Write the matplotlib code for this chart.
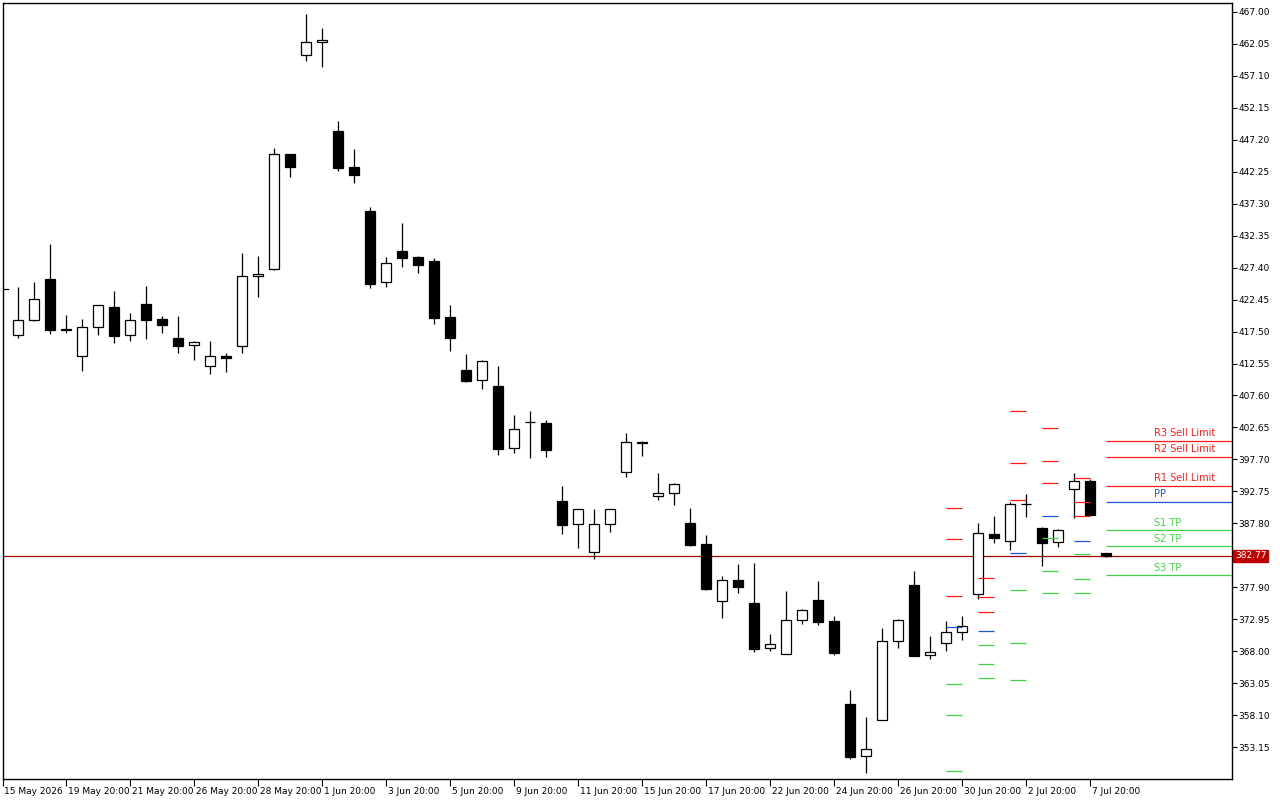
import numpy as np
import matplotlib
matplotlib.use("Agg")
import matplotlib.pyplot as plt
import matplotlib.transforms as mtransforms

# ---- candle data (one bar per index) ----
opens = [416.92, 419.25, 425.64, 417.85, 413.67, 418.16, 421.31, 416.92, 421.77, 419.40,
         416.51, 415.38, 412.12, 413.67, 415.22, 426.06, 427.15, 444.96, 460.29, 462.31,
         448.57, 442.99, 436.18, 425.13, 429.98, 429.05, 428.43, 419.76, 411.55, 409.95,
         409.07, 399.42, 403.50, 403.34, 391.26, 387.65, 383.31, 387.65, 395.80, 400.35,
         391.99, 392.45, 387.80, 384.60, 375.72, 379.02, 375.46, 368.44, 367.51, 372.78,
         375.92, 372.67, 359.81, 351.72, 357.29, 369.53, 378.25, 367.36, 369.22, 370.92,
         376.81, 386.15, 385.02, 390.75, 387.08, 384.86, 393.07, 394.36, 383.16]
highs = [424.40, 425.18, 431.07, 420.07, 419.45, 421.62, 423.79, 420.38, 424.56, 419.91,
         419.91, 415.99, 416.04, 414.14, 429.67, 429.21, 445.93, 445.00, 466.69, 464.52,
         450.12, 445.78, 436.80, 429.05, 434.36, 429.16, 428.90, 421.62, 414.03, 413.10,
         412.17, 404.58, 405.20, 403.80, 393.58, 390.02, 390.02, 390.02, 401.79, 400.50,
         395.60, 394.05, 390.17, 385.99, 379.64, 381.50, 381.66, 370.66, 377.32, 374.48,
         378.87, 373.45, 361.98, 357.80, 371.59, 372.98, 380.42, 370.35, 372.67, 373.45,
         387.85, 388.94, 391.10, 392.34, 387.23, 386.92, 395.60, 394.67, 383.20]
lows = [416.55, 419.20, 417.17, 417.33, 411.44, 417.02, 415.78, 416.09, 416.40, 417.33,
        414.23, 413.15, 410.98, 411.29, 414.23, 422.90, 427.10, 441.49, 459.46, 458.53,
        442.42, 440.56, 424.30, 424.45, 427.55, 426.62, 418.72, 414.54, 409.74, 408.65,
        398.43, 398.74, 397.97, 398.12, 386.19, 384.03, 382.32, 386.50, 395.02, 398.28,
        391.41, 390.69, 384.33, 377.52, 373.18, 377.05, 367.92, 368.07, 367.50, 372.25,
        372.10, 367.45, 351.34, 349.17, 357.27, 368.54, 367.30, 366.83, 368.07, 369.78,
        376.03, 384.80, 383.72, 388.73, 381.24, 384.18, 388.58, 389.14, 382.63]
closes = [419.25, 422.50, 417.79, 417.80, 418.16, 421.57, 416.86, 419.25, 419.34, 418.57,
          415.31, 415.84, 413.67, 413.33, 426.06, 426.37, 444.96, 443.04, 462.31, 462.62,
          442.88, 441.80, 424.92, 428.08, 428.94, 427.86, 419.65, 416.55, 409.89, 412.90,
          399.36, 402.36, 403.42, 399.21, 387.59, 389.97, 387.65, 389.97, 400.35, 400.20,
          392.45, 393.85, 384.49, 377.67, 379.02, 377.99, 368.38, 369.06, 372.78, 374.33,
          372.56, 367.76, 351.65, 352.80, 369.57, 372.78, 367.30, 367.82, 370.92, 371.85,
          386.26, 385.58, 390.75, 390.72, 384.80, 386.72, 394.31, 389.14, 382.77]

# ---- pivot levels, each set starts at a bar index ----
pivot_start = [58, 60, 62, 64, 66, 68]
R3 = [390.13, 379.29, 405.15, 402.52, 394.77, 400.51]
R2 = [385.33, 376.39, 397.10, 397.41, 391.06, 398.03]
R1 = [376.50, 374.02, 391.41, 394.00, 388.89, 393.54]
PP = [371.70, 371.08, 383.16, 388.89, 385.02, 391.06]
S1 = [362.87, 368.91, 377.43, 385.48, 383.00, 386.72]
S2 = [358.07, 365.97, 369.22, 380.37, 379.13, 384.24]
S3 = [349.39, 363.80, 363.49, 376.96, 376.96, 379.75]

current_price = 382.77
left_marker = 424.10

x_tick_pos = [3, 7, 11, 15, 19, 23, 27, 31, 35, 39, 43, 47, 51, 55, 59, 63, 67]
x_tick_lbl = ["19 May 20:00", "21 May 20:00", "26 May 20:00", "28 May 20:00",
              "1 Jun 20:00", "3 Jun 20:00", "5 Jun 20:00", "9 Jun 20:00",
              "11 Jun 20:00", "15 Jun 20:00", "17 Jun 20:00", "22 Jun 20:00",
              "24 Jun 20:00", "26 Jun 20:00", "30 Jun 20:00", "2 Jul 20:00",
              "7 Jul 20:00"]
first_label = "15 May 2026"
# the 382.85 level is hidden behind the current price tag
y_ticks = [353.15, 358.10, 363.05, 368.00, 372.95, 377.90, 387.80, 392.75,
           397.70, 402.65, 407.60, 412.55, 417.50, 422.45, 427.40, 432.35, 437.30,
           442.25, 447.20, 452.15, 457.10, 462.05, 467.00]

RED = "#ff1a1a"
BLUE = "#1f55d0"
GREEN = "#44d044"

fig = plt.figure(figsize=(12.8, 8), dpi=100)
ax = fig.add_axes([3 / 1280, 21 / 800, 1229 / 1280, 776 / 800])
xmin, xmax = -0.9375, 75.875
ax.set_xlim(xmin, xmax)
ax.set_ylim(348.20, 468.39)

o = np.array(opens); h = np.array(highs); l = np.array(lows); c = np.array(closes)
idx = np.arange(len(o))
up = c >= o

ax.vlines(idx, l, h, color="black", lw=0.9, zorder=2)
bottoms = np.minimum(o, c)
heights = np.maximum(np.abs(c - o), 0.12)
ax.bar(idx, heights, bottom=bottoms, width=0.62,
       color=np.where(up, "white", "black"), edgecolor="black", lw=0.9, zorder=3)

# pivot dashes
levels = [(R3, RED), (R2, RED), (R1, RED), (PP, BLUE), (S1, GREEN), (S2, GREEN), (S3, GREEN)]
for vals, col in levels:
    for k, s in enumerate(pivot_start):
        end = xmax if k == len(pivot_start) - 1 else s + 1
        ax.hlines(vals[k], s, end, color=col, lw=0.9, zorder=4)

# labels for current pivot set
names = ["R3 Sell Limit", "R2 Sell Limit", "R1 Sell Limit", "PP", "S1 TP", "S2 TP", "S3 TP"]
for (vals, col), name in zip(levels, names):
    ax.annotate(name, (71.0, vals[-1]), xytext=(0, 2), textcoords="offset points",
                ha="left", va="bottom", color=col, fontsize=7)

# current price line and label
ax.axhline(current_price, color="#a80000", lw=0.9, zorder=1)
trans = mtransforms.blended_transform_factory(ax.transAxes, ax.transData)
ax.text(1.0025, current_price, f"{current_price:.2f}", transform=trans, ha="left",
        va="center", color="white", fontsize=6.5, zorder=6,
        bbox=dict(boxstyle="square,pad=0.18", fc="#c00000", ec="#c00000"))

# small marker on the left border
ax.plot([0, 0.004], [left_marker, left_marker], transform=trans, color="black",
        lw=0.9, clip_on=False)

# axes styling
for sp in ax.spines.values():
    sp.set_color("black")
    sp.set_linewidth(1.0)
ax.yaxis.tick_right()
ax.set_yticks(y_ticks)
ax.set_yticklabels([f"{v:.2f}" for v in y_ticks])
ax.tick_params(axis="y", direction="out", length=3.5, width=0.8, labelsize=6.5, pad=1)

ax.set_xticks([xmin] + x_tick_pos)
ax.set_xticklabels([first_label] + x_tick_lbl)
ax.tick_params(axis="x", direction="out", length=5, width=0.8, labelsize=6.5, pad=1)
offset = mtransforms.ScaledTranslation(1.5 / 100, 0, fig.dpi_scale_trans)
for lbl in ax.get_xticklabels():
    lbl.set_horizontalalignment("left")
    lbl.set_transform(lbl.get_transform() + offset)

fig.savefig("out.png", dpi=100, facecolor="white")
